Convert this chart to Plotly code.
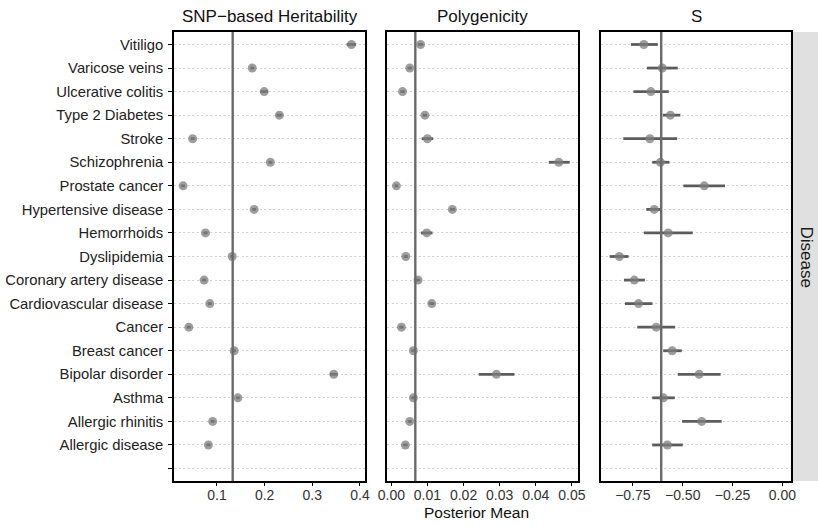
import plotly.graph_objects as go

W, H = 818, 526

diseases = ["Vitiligo", "Varicose veins", "Ulcerative colitis", "Type 2 Diabetes", "Stroke",
            "Schizophrenia", "Prostate cancer", "Hypertensive disease", "Hemorrhoids", "Dyslipidemia",
            "Coronary artery disease", "Cardiovascular disease", "Cancer", "Breast cancer",
            "Bipolar disorder", "Asthma", "Allergic rhinitis", "Allergic disease"]

h2_mean = [0.382, 0.174, 0.199, 0.231, 0.049, 0.212, 0.029, 0.178, 0.076, 0.132,
           0.073, 0.085, 0.041, 0.136, 0.345, 0.144, 0.091, 0.082]
h2_low = [0.372, 0.170, 0.191, 0.225, 0.045, 0.208, 0.025, 0.174, 0.072, 0.128,
          0.069, 0.081, 0.037, 0.132, 0.337, 0.140, 0.087, 0.078]
h2_high = [0.392, 0.178, 0.207, 0.237, 0.053, 0.216, 0.033, 0.182, 0.080, 0.136,
           0.077, 0.089, 0.045, 0.140, 0.353, 0.148, 0.095, 0.086]

poly_mean = [0.0081, 0.0051, 0.0031, 0.0093, 0.0100, 0.0464, 0.0014, 0.0169, 0.0098, 0.0040,
             0.0074, 0.0112, 0.0028, 0.0061, 0.0291, 0.0061, 0.0051, 0.0039]
poly_low = [0.0074, 0.0045, 0.0025, 0.0087, 0.0084, 0.0436, 0.0009, 0.0162, 0.0082, 0.0034,
            0.0068, 0.0105, 0.0022, 0.0055, 0.0242, 0.0055, 0.0045, 0.0033]
poly_high = [0.0088, 0.0057, 0.0037, 0.0099, 0.0116, 0.0494, 0.0019, 0.0176, 0.0114, 0.0046,
             0.0080, 0.0119, 0.0034, 0.0067, 0.0341, 0.0067, 0.0057, 0.0045]

s_mean = [-0.695, -0.603, -0.660, -0.562, -0.665, -0.612, -0.392, -0.643, -0.573, -0.818,
          -0.743, -0.722, -0.633, -0.553, -0.418, -0.597, -0.405, -0.577]
s_low = [-0.760, -0.680, -0.747, -0.600, -0.798, -0.653, -0.497, -0.683, -0.695, -0.867,
         -0.795, -0.790, -0.728, -0.598, -0.525, -0.653, -0.503, -0.653]
s_high = [-0.625, -0.525, -0.570, -0.512, -0.528, -0.567, -0.288, -0.608, -0.450, -0.772,
          -0.690, -0.652, -0.538, -0.505, -0.310, -0.540, -0.305, -0.500]

panel_titles = ["SNP\u2212based Heritability", "Polygenicity", "S"]
ref_lines = [0.133, 0.00664, -0.608]
x_ranges = [[0.0099, 0.4105], [-0.0012, 0.0517], [-0.91, 0.043]]
x_ticks = [[0.1, 0.2, 0.3, 0.4], [0.0, 0.01, 0.02, 0.03, 0.04, 0.05], [-0.75, -0.5, -0.25, 0.0]]
x_fmt = [".1f", ".2f", ".2f"]

n = len(diseases)
ypos = [n - i for i in range(n)]
tickvals = list(range(0, n + 1))
ticktext = [""] + diseases[::-1]


def px(x):
    return x / W


def py(y):
    return 1 - y / H


FONT = "Liberation Sans, Arial, sans-serif"
panels_px = [(174, 365), (387, 578), (601, 791)]
top_px, bot_px = 32, 481
ydom = [py(bot_px), py(top_px)]

fig = go.Figure()
series = [(h2_mean, h2_low, h2_high), (poly_mean, poly_low, poly_high), (s_mean, s_low, s_high)]
for k, (m, lo, hi) in enumerate(series):
    xa = "x" if k == 0 else f"x{k+1}"
    ya = "y" if k == 0 else f"y{k+1}"
    fig.add_trace(go.Scatter(
        x=m, y=ypos, mode="markers", xaxis=xa, yaxis=ya, showlegend=False,
        marker=dict(size=9, color="rgba(125,125,125,0.75)", line=dict(width=0)),
        error_x=dict(type="data", symmetric=False,
                     array=[h - v for h, v in zip(hi, m)],
                     arrayminus=[v - l for v, l in zip(m, lo)],
                     width=0, thickness=2.8, color="#5c5c5c"),
    ))
    fig.add_shape(type="line", xref=xa, yref=f"{ya} domain", x0=ref_lines[k], x1=ref_lines[k],
                  y0=0, y1=1, line=dict(color="#6a6a6a", width=2.4), layer="above")

axis_common = dict(showline=True, mirror=True, linecolor="black", linewidth=1.6,
                   zeroline=False, automargin=False)
layout = dict(width=W, height=H, margin=dict(l=0, r=0, t=0, b=0),
              paper_bgcolor="white", plot_bgcolor="white",
              font=dict(family=FONT, color="#222222"))
for k in range(3):
    sx = "xaxis" if k == 0 else f"xaxis{k+1}"
    sy = "yaxis" if k == 0 else f"yaxis{k+1}"
    x0, x1 = panels_px[k]
    layout[sx] = dict(axis_common, domain=[px(x0), px(x1)], range=x_ranges[k],
                      tickvals=x_ticks[k], tickformat=x_fmt[k], showgrid=False,
                      ticks="outside", ticklen=3, tickwidth=1.2, tickcolor="black",
                      ticklabelstandoff=-3,
                      tickfont=dict(size=14, color="#333333"),
                      anchor="y" if k == 0 else f"y{k+1}")
    ydict = dict(axis_common, domain=ydom, range=[-0.53, n + 0.53],
                 tickvals=tickvals, showgrid=True, gridcolor="#d2d2d2", gridwidth=0.8,
                 griddash="2px,2.5px", anchor="x" if k == 0 else f"x{k+1}")
    if k == 0:
        ydict.update(ticktext=ticktext, ticks="outside", ticklen=4, tickwidth=1.2,
                     tickcolor="black", ticklabelstandoff=2,
                     tickfont=dict(size=14.8, color="#222222"))
    else:
        ydict.update(showticklabels=False, ticks="")
    layout[sy] = ydict
fig.update_layout(**layout)

for k in range(3):
    x0, x1 = panels_px[k]
    fig.add_annotation(text=panel_titles[k], xref="paper", yref="paper",
                       x=px((x0 + x1) / 2), y=py(16), showarrow=False,
                       font=dict(size=17, color="#111111"), xanchor="center", yanchor="middle")

fig.add_annotation(text="Posterior Mean", xref="paper", yref="paper", x=px(476), y=py(512),
                   showarrow=False, font=dict(size=15.5, color="#111111"),
                   xanchor="center", yanchor="middle")

# facet strip on the right
fig.add_shape(type="rect", xref="paper", yref="paper", x0=px(793), x1=1.0,
              y0=ydom[0], y1=ydom[1], fillcolor="#e0e0e0", line=dict(width=0), layer="below")
fig.add_annotation(text="Disease", xref="paper", yref="paper", x=px(806), y=(ydom[0] + ydom[1]) / 2,
                   showarrow=False, textangle=90, font=dict(size=17, color="#1a1a1a"),
                   xanchor="center", yanchor="middle")

fig.write_html("out.html", config={"displayModeBar": False},
               post_script="document.body.style.margin='0';")
